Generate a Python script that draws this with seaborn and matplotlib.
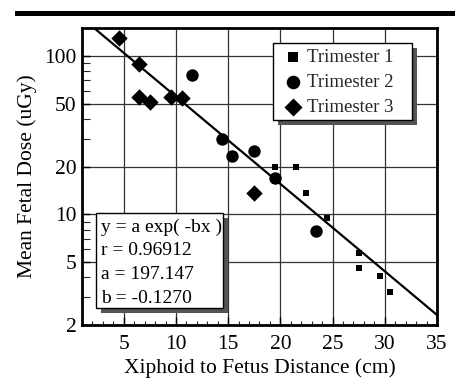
import numpy as np
import pandas as pd
import seaborn as sns
import matplotlib
matplotlib.use("Agg")
import matplotlib.pyplot as plt
from matplotlib.patches import Rectangle
from matplotlib.ticker import FixedLocator, NullFormatter, FixedFormatter, MultipleLocator

# ---- data ----
t1_x = [19.5, 21.5, 22.5, 24.5, 27.5, 27.5, 29.5, 30.5]
t1_y = [20.0, 20.0, 13.6, 9.5, 5.7, 4.55, 4.05, 3.25]
t2_x = [11.5, 14.4, 15.4, 17.5, 19.5, 23.4]
t2_y = [76.0, 30.0, 23.3, 25.0, 17.0, 7.9]
t3_x = [4.5, 6.5, 6.5, 7.5, 9.5, 10.6, 17.5]
t3_y = [129.0, 89.0, 55.0, 51.0, 55.0, 54.0, 13.6]
labels = ["Trimester 1", "Trimester 2", "Trimester 3"]
fit_a = 197.147
fit_b = 0.1270
fit_r = 0.96912
y_ticks = [2, 5, 10, 20, 50, 100]
y_minor = [3, 4, 6, 7, 8, 9, 30, 40, 60, 70, 80, 90]
x_ticks = [5, 10, 15, 20, 25, 30, 35]
stats_lines = ["y = a exp( -bx )", "r = %.5f" % fit_r, "a = %.3f" % fit_a, "b = -%.4f" % fit_b]

sns.set_theme(style="white")
plt.rcParams["font.family"] = ["Liberation Serif", "DejaVu Serif"]

W, H = 456, 383
AX_L, AX_R, AX_T, AX_B = 82, 437, 28, 325
fig = plt.figure(figsize=(W / 100, H / 100), dpi=100)
ax = fig.add_axes([AX_L / W, 1 - AX_B / H, (AX_R - AX_L) / W, (AX_B - AX_T) / H])

def ax_x(px):
    return (px - AX_L) / (AX_R - AX_L)

def ax_y(py):
    return (AX_B - py) / (AX_B - AX_T)

# decorative top rule
fig.add_artist(Rectangle((15 / W, 1 - 15.5 / H), 441 / W, 5 / H,
                         transform=fig.transFigure, color="black", lw=0))

ax.set_yscale("log")

# fit line
xfit = np.linspace(1, 35, 200)
yfit = fit_a * np.exp(-fit_b * xfit)
sns.lineplot(x=xfit, y=yfit, ax=ax, color="black", lw=1.6, zorder=3)

sns.scatterplot(x=t1_x, y=t1_y, ax=ax, marker="s", s=17, color="black",
                edgecolor="black", linewidth=0, label=labels[0], zorder=4)
sns.scatterplot(x=t2_x, y=t2_y, ax=ax, marker="o", s=80, color="black",
                edgecolor="black", linewidth=0, label=labels[1], zorder=4)
sns.scatterplot(x=t3_x, y=t3_y, ax=ax, marker="D", s=70, color="black",
                edgecolor="black", linewidth=0, label=labels[2], zorder=4)

ax.set_xlim(1, 35)
ax.set_ylim(2, 150)

ax.xaxis.set_major_locator(FixedLocator(x_ticks))
ax.xaxis.set_minor_locator(MultipleLocator(1))
ax.yaxis.set_major_locator(FixedLocator(y_ticks))
ax.yaxis.set_major_formatter(FixedFormatter([str(v) for v in y_ticks]))
ax.yaxis.set_minor_locator(FixedLocator(y_minor))
ax.yaxis.set_minor_formatter(NullFormatter())

ax.tick_params(axis="both", which="major", direction="in", length=6, width=1,
               labelsize=15.5, colors="black", bottom=True, left=True)
ax.tick_params(axis="x", which="minor", direction="in", length=3, width=0.8, bottom=True)
ax.tick_params(axis="y", which="minor", direction="in", length=5.5, width=0.8, left=True)
ax.tick_params(axis="x", which="major", pad=7)
ax.tick_params(axis="y", which="major", pad=4)

ax.grid(True, which="major", color="0.2", lw=0.9)
for sp in ax.spines.values():
    sp.set_color("black")
    sp.set_linewidth(2)
    sp.set_visible(True)

ax.set_xlabel("Xiphoid to Fetus Distance (cm)", fontsize=15.5, color="black", labelpad=3)
ax.set_ylabel("Mean Fetal Dose (uGy)", fontsize=15.5, color="black", labelpad=5)

def boxed(px0, py0, px1, py1, sh=5):
    shadow = Rectangle((ax_x(px0 + sh), ax_y(py1 + sh)), ax_x(px1) - ax_x(px0),
                       ax_y(py0) - ax_y(py1), transform=ax.transAxes,
                       fc="0.33", ec="none", zorder=5, clip_on=False)
    box = Rectangle((ax_x(px0), ax_y(py1)), ax_x(px1) - ax_x(px0),
                    ax_y(py0) - ax_y(py1), transform=ax.transAxes,
                    fc="white", ec="black", lw=1, zorder=5.1, clip_on=False)
    ax.add_patch(shadow)
    ax.add_patch(box)

# legend box
boxed(273, 43, 412, 120)
leg = ax.legend(loc="upper left", bbox_to_anchor=(ax_x(284), ax_y(48.5)), borderaxespad=0,
                fontsize=13.5, frameon=False, handletextpad=0.25, handlelength=1.0,
                labelspacing=0.42, borderpad=0)
leg.set_zorder(6)
for h, sz in zip(leg.legend_handles, [50, 95, 85]):
    h.set_sizes([sz])

# stats box
boxed(96, 213, 223, 308)
for line, base in zip(stats_lines, [231.5, 255, 279, 302.7]):
    ax.text(ax_x(101), ax_y(base), line, transform=ax.transAxes, ha="left",
            va="baseline", fontsize=14, color="black", zorder=6)

fig.savefig("out.png", dpi=100)
